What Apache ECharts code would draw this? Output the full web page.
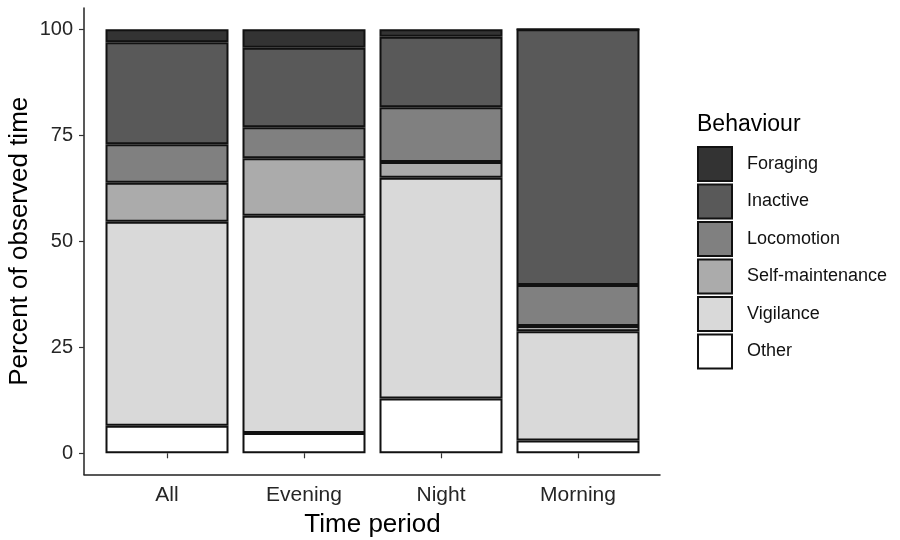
<!DOCTYPE html>
<html>
<head>
<meta charset="utf-8">
<script src="https://cdn.jsdelivr.net/npm/echarts@6/dist/echarts.min.js"></script>
<style>
  html, body { margin: 0; padding: 0; background: #fff; }
  #main { width: 900px; height: 540px; }
</style>
</head>
<body>
<div id="main"></div>
<script>
// time periods (x categories)
const periods = ['All', 'Evening', 'Night', 'Morning'];
const yTicks = [0, 25, 50, 75, 100];

// percent of observed time, stacked bottom to top
const other       = [6.5, 4.8, 12.9, 3.0];
const vigilance   = [48.1, 51.2, 52.1, 25.8];
const selfMaint   = [9.2, 13.6, 3.7, 1.2];
const locomotion  = [9.1, 7.3, 12.9, 9.7];
const inactive    = [24.0, 18.7, 16.6, 60.3];
const foraging    = [3.1, 4.4, 1.8, 0];

const behaviours = [
  { name: 'Other', values: other, color: '#ffffff' },
  { name: 'Vigilance', values: vigilance, color: '#d9d9d9' },
  { name: 'Self-maintenance', values: selfMaint, color: '#ababab' },
  { name: 'Locomotion', values: locomotion, color: '#808080' },
  { name: 'Inactive', values: inactive, color: '#595959' },
  { name: 'Foraging', values: foraging, color: '#333333' }
];

const font = 'Liberation Sans, Arial, sans-serif';
const textCol = '#262626';

let option = {
  backgroundColor: '#fff',
  animation: false,
  title: {
    text: 'Behaviour',
    left: 697,
    top: 113,
    padding: 0,
    textStyle: { fontFamily: font, fontSize: 23, fontWeight: 'normal', color: '#000' }
  },
  legend: {
    orient: 'vertical',
    left: 697,
    top: 146,
    padding: 0,
    itemWidth: 34,
    itemHeight: 34,
    itemGap: 1.5,
    icon: 'rect',
    data: behaviours.map(b => b.name).reverse(),
    textStyle: { fontFamily: font, fontSize: 18, color: '#111', padding: [0, 0, 0, 10] }
  },
  grid: [
    // bars: 4 bands of 137px
    { left: 98.5, right: 253.5, top: 8, bottom: 65.5, outerBoundsMode: 'none' },
    // panel with axis lines (ggplot expansion)
    { left: 84, right: 240, top: 8, bottom: 65.5, outerBoundsMode: 'none' }
  ],
  xAxis: [
    {
      gridIndex: 0,
      type: 'category',
      data: periods,
      name: 'Time period',
      nameLocation: 'middle',
      nameGap: 37,
      nameMoveOverlap: false,
      nameTextStyle: { fontFamily: font, fontSize: 26, color: '#000' },
      axisLine: { show: false },
      axisTick: { show: true, alignWithLabel: true, length: 5, lineStyle: { color: '#333', width: 1.2 } },
      axisLabel: { fontFamily: font, fontSize: 21, color: textCol, margin: 10 }
    },
    {
      gridIndex: 1,
      type: 'value',
      min: 0,
      max: 1,
      axisLine: { show: true, onZero: false, lineStyle: { color: '#222', width: 1.5 } },
      axisTick: { show: false },
      axisLabel: { show: false },
      splitLine: { show: false }
    }
  ],
  yAxis: [
    {
      gridIndex: 0,
      type: 'value',
      min: -5,
      max: 105,
      show: false
    },
    {
      gridIndex: 1,
      type: 'value',
      min: -5,
      max: 105,
      name: 'Percent of observed time',
      nameLocation: 'middle',
      nameGap: 51,
      nameMoveOverlap: false,
      nameTextStyle: { fontFamily: font, fontSize: 26, color: '#000' },
      splitLine: { show: false },
      axisLine: { show: true, onZero: false, lineStyle: { color: '#222', width: 1.5 } },
      axisTick: { show: true, length: 5, customValues: yTicks, lineStyle: { color: '#333', width: 1.2 } },
      axisLabel: { customValues: yTicks, fontFamily: font, fontSize: 20, color: textCol, margin: 11 }
    }
  ],
  series: behaviours.map(b => ({
    name: b.name,
    type: 'bar',
    xAxisIndex: 0,
    yAxisIndex: 0,
    stack: 'total',
    barWidth: 123,
    itemStyle: { color: b.color, borderColor: '#111', borderWidth: 2 },
    data: b.values
  }))
};

let myChart = echarts.init(document.getElementById('main'));
myChart.setOption(option);
</script>
</body>
</html>
